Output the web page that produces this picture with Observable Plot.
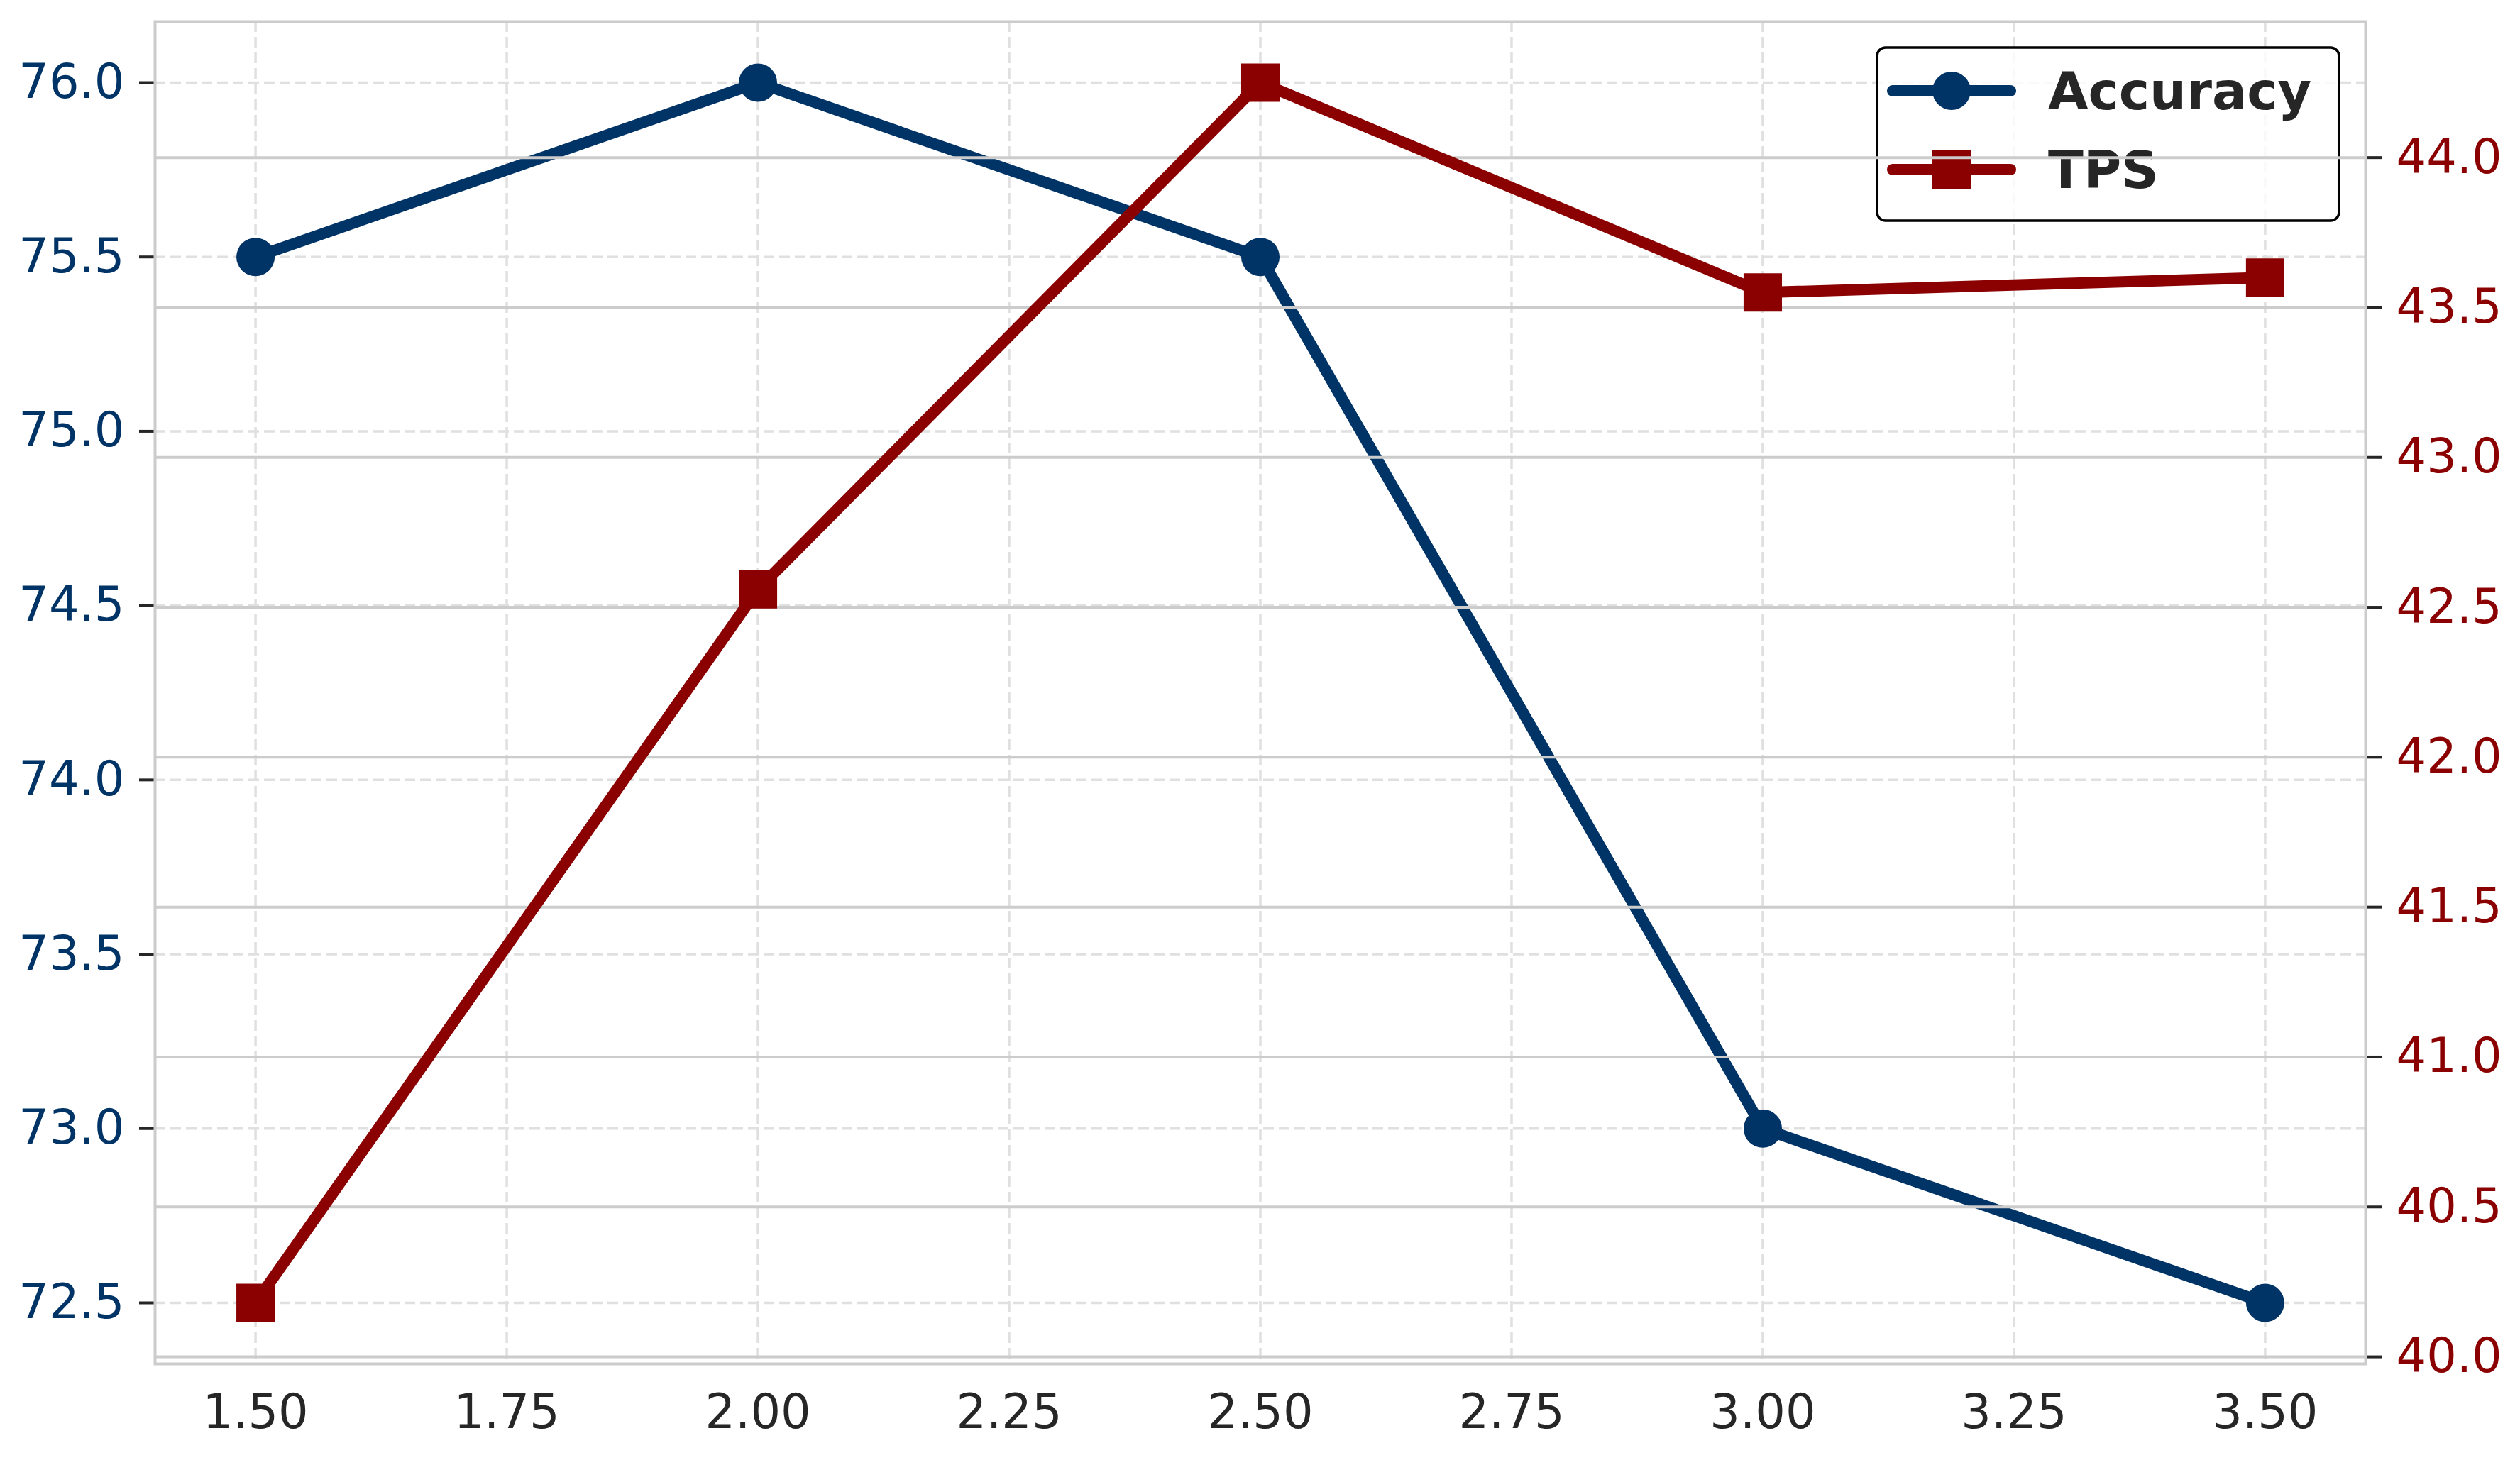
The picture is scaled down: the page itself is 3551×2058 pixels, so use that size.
<!DOCTYPE html>
<html>
<head>
<meta charset="utf-8">
<script src="https://cdn.jsdelivr.net/npm/d3@7"></script>
<script src="https://cdn.jsdelivr.net/npm/@observablehq/plot@0.6"></script>
<style>
  html, body { margin: 0; padding: 0; background: #ffffff; }
  #chart svg { display: block; }
</style>
</head>
<body>
<div id="chart"></div>
<script>
// ---- data ----
const ratios = [1.5, 2.0, 2.5, 3.0, 3.5];
const accuracy = [75.5, 76.0, 75.5, 73.0, 72.5];
const tps = [40.18, 42.56, 44.25, 43.55, 43.60];
const seriesNames = ["Accuracy", "TPS"];
const xTicks = [1.5, 1.75, 2.0, 2.25, 2.5, 2.75, 3.0, 3.25, 3.5];
const accTicks = [72.5, 73.0, 73.5, 74.0, 74.5, 75.0, 75.5, 76.0];
const tpsTicks = [40.0, 40.5, 41.0, 41.5, 42.0, 42.5, 43.0, 43.5, 44.0];

// ---- colours ----
const blue = "#003366";
const red = "#8B0000";
const ink = "#262626";
const gridSolid = "#cccccc";
const gridDash = "#e0e0e0";

// ---- twin-axis mapping (matplotlib-style autoscale with 5% margins) ----
const accMin = d3.min(accuracy), accMax = d3.max(accuracy);
const tpsMin = d3.min(tps), tpsMax = d3.max(tps);
const pad = 0.05 * (accMax - accMin);
const yDomain = [accMin - pad, accMax + pad];
const toAcc = v => accMin + (v - tpsMin) * (accMax - accMin) / (tpsMax - tpsMin);
const fromAcc = a => tpsMin + (a - accMin) * (tpsMax - tpsMin) / (accMax - accMin);
const xPad = 0.05 * (d3.max(ratios) - d3.min(ratios));
const xDomain = [d3.min(ratios) - xPad, d3.max(ratios) + xPad];

const accData = ratios.map((r, i) => ({x: r, y: accuracy[i]}));
const tpsData = ratios.map((r, i) => ({x: r, y: toAcc(tps[i])}));

const FONT = "DejaVu Sans";
const TICK_FS = 67;

// legend drawn as a render-function mark (sits below ax2 grid, like matplotlib)
function legendMark(index, scales, values, dims) {
  const right = dims.width - dims.marginRight;
  const top = dims.marginTop;
  const bw = 651, bh = 244;
  const bx = right - 37 - bw, by = top + 37;
  const g = d3.create("svg:g").attr("text-anchor", "start");
  g.append("rect")
    .attr("x", bx).attr("y", by).attr("width", bw).attr("height", bh)
    .attr("rx", 12).attr("ry", 12)
    .attr("fill", "white").attr("fill-opacity", 0.8)
    .attr("stroke", "black").attr("stroke-width", 3.5);
  const rows = [
    {name: seriesNames[0], color: blue, sym: "circle", cy: by + 61},
    {name: seriesNames[1], color: red, sym: "square", cy: by + 172}
  ];
  for (const r of rows) {
    g.append("line")
      .attr("x1", bx + 22).attr("x2", bx + 188)
      .attr("y1", r.cy).attr("y2", r.cy)
      .attr("stroke", r.color).attr("stroke-width", 16).attr("stroke-linecap", "round");
    if (r.sym === "circle") {
      g.append("circle").attr("cx", bx + 105).attr("cy", r.cy).attr("r", 27).attr("fill", r.color);
    } else {
      g.append("rect").attr("x", bx + 105 - 27).attr("y", r.cy - 27)
        .attr("width", 54).attr("height", 54).attr("fill", r.color);
    }
    g.append("text")
      .attr("x", bx + 241).attr("y", r.cy + 26)
      .attr("text-anchor", "start")
      .attr("font-family", FONT).attr("font-size", 73).attr("font-weight", "bold")
      .attr("fill", ink)
      .text(r.name);
  }
  return g.node();
}

const chart = Plot.plot({
  width: 3551,
  height: 2058,
  marginLeft: 218,
  marginRight: 218,
  marginTop: 30,
  marginBottom: 136,
  style: {fontFamily: FONT, background: "white", color: ink},
  x: {domain: xDomain, type: "linear"},
  y: {domain: yDomain, type: "linear"},
  marks: [
    // ax1 dashed grid
    Plot.gridX(xTicks, {stroke: gridDash, strokeOpacity: 1, strokeWidth: 3.5, strokeDasharray: "15,7"}),
    Plot.gridY(accTicks, {stroke: gridDash, strokeOpacity: 1, strokeWidth: 3.5, strokeDasharray: "15,7"}),
    // axes
    Plot.axisX({ticks: xTicks, tickSize: 0, tickPadding: 43, tickFormat: d => d.toFixed(2),
      fill: ink, fontSize: TICK_FS, label: null}),
    Plot.axisY({ticks: accTicks, anchor: "left", tickSize: 22, tickPadding: 21, strokeWidth: 4,
      stroke: ink, fill: blue, fontSize: TICK_FS, tickFormat: d => d.toFixed(1), label: null}),
    Plot.axisY({ticks: tpsTicks.map(toAcc), anchor: "right", tickSize: 22, tickPadding: 21, strokeWidth: 4,
      stroke: ink, fill: red, fontSize: TICK_FS, tickFormat: d => fromAcc(d).toFixed(1), label: null}),
    // Accuracy series
    Plot.line(accData, {x: "x", y: "y", stroke: blue, strokeWidth: 16, strokeLinejoin: "round"}),
    Plot.dot(accData, {x: "x", y: "y", r: 27, fill: blue, symbol: "circle"}),
    // legend (ax1)
    legendMark,
    // ax2 solid grid
    Plot.gridY(tpsTicks.map(toAcc), {stroke: gridSolid, strokeOpacity: 1, strokeWidth: 4}),
    // TPS series
    Plot.line(tpsData, {x: "x", y: "y", stroke: red, strokeWidth: 16, strokeLinejoin: "round"}),
    Plot.dot(tpsData, {x: "x", y: "y", r: 30.5, fill: red, symbol: "square"}),
    // spines
    Plot.frame({stroke: gridSolid, strokeWidth: 4})
  ]
});

document.getElementById("chart").appendChild(chart);
</script>
</body>
</html>
